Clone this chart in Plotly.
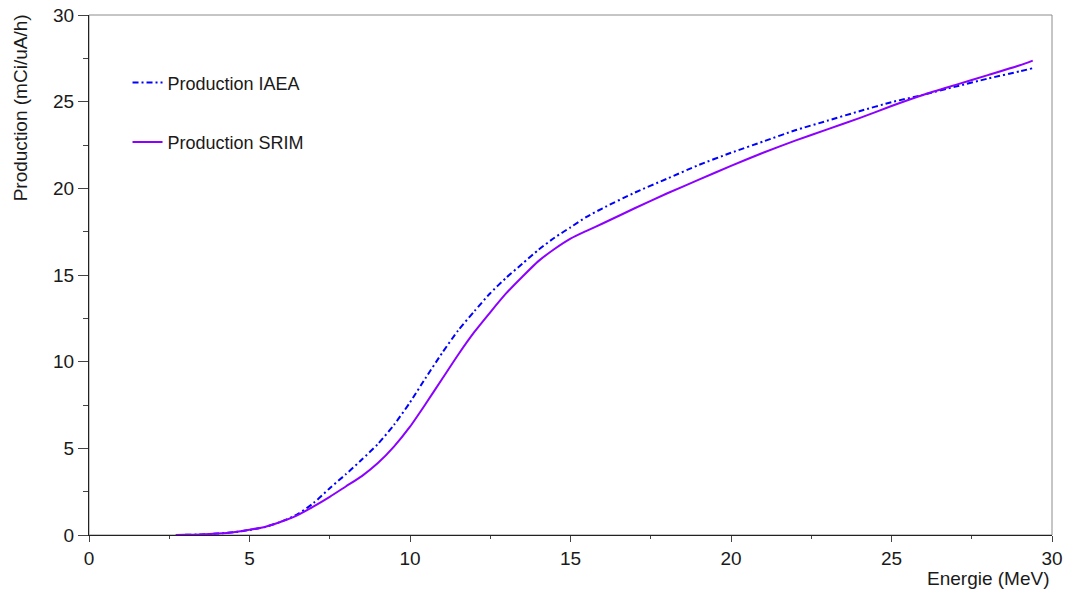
import plotly.graph_objects as go

# Energy (MeV) and production (mCi/uA/h)
iaea_energy = [3.0, 3.5, 4.0, 4.5, 5.0, 5.5, 6.0, 6.5, 7.0, 7.5, 8.0, 8.5, 9.0, 9.5,
               10.0, 10.5, 11.0, 11.5, 12.0, 12.5, 13.0, 13.5, 14.0, 14.5, 15.0, 15.5,
               16, 17, 18, 19, 20, 21, 22, 23, 24, 25, 26, 27, 28, 29, 29.4]
iaea_prod = [0.01, 0.03, 0.08, 0.16, 0.29, 0.47, 0.78, 1.2, 1.85, 2.7, 3.5, 4.35, 5.25, 6.35,
             7.65, 9.1, 10.5, 11.8, 12.9, 13.95, 14.85, 15.65, 16.45, 17.15, 17.75, 18.35,
             18.85, 19.75, 20.55, 21.35, 22.05, 22.7, 23.35, 23.9, 24.45, 24.97, 25.4, 25.87,
             26.33, 26.75, 26.93]

srim_energy = [2.7, 3.0, 3.5, 4.0, 4.5, 5.0, 5.5, 6.0, 6.5, 7.0, 7.5, 8.0, 8.5, 9.0, 9.5,
               10.0, 10.5, 11.0, 11.5, 12.0, 12.5, 13.0, 13.5, 14.0, 14.5, 15.0, 15.5,
               16, 17, 18, 19, 20, 21, 22, 23, 24, 25, 26, 27, 28, 29, 29.4]
srim_prod = [0.0, 0.01, 0.03, 0.08, 0.16, 0.3, 0.48, 0.78, 1.15, 1.65, 2.2, 2.8, 3.4, 4.15, 5.1,
             6.25, 7.6, 9.0, 10.4, 11.7, 12.85, 13.95, 14.9, 15.8, 16.5, 17.1, 17.55,
             17.97, 18.85, 19.7, 20.5, 21.3, 22.05, 22.75, 23.4, 24.05, 24.75, 25.4, 25.97,
             26.53, 27.1, 27.37]

x_ticks = [0, 5, 10, 15, 20, 25, 30]
y_ticks = [0, 5, 10, 15, 20, 25, 30]

FONT = "Liberation Sans, Arial, sans-serif"
TXT = "#1a1a1a"

fig = go.Figure()
fig.add_trace(go.Scatter(
    x=iaea_energy, y=iaea_prod, mode="lines", name="Production IAEA",
    legendgroup="a",
    line=dict(color="#0000FF", width=2, dash="6px,3px,2px,3px", shape="spline", smoothing=0.6),
))
fig.add_trace(go.Scatter(
    x=srim_energy, y=srim_prod, mode="lines", name="Production SRIM",
    legendgroup="b",
    line=dict(color="#8B00FF", width=2, shape="spline", smoothing=0.6),
))

axis_common = dict(
    showgrid=False, zeroline=False, showline=True, linecolor="#222222", linewidth=1,
    ticks="outside", tickcolor="#444444", tickwidth=1, automargin=False,
    tickfont=dict(family=FONT, size=19, color=TXT),
)

fig.update_xaxes(
    range=[0, 30], tickvals=x_ticks, ticktext=[str(v) for v in x_ticks], ticklen=6,
    minor=dict(ticks="outside", dtick=2.5, ticklen=3, tickcolor="#444444"),
    **axis_common,
)
fig.update_yaxes(
    range=[0, 30], tickvals=y_ticks, ticktext=[str(v) for v in y_ticks], ticklen=10,
    minor=dict(ticks="outside", dtick=2.5, ticklen=5, tickcolor="#444444"),
    **axis_common,
)

# gray top/right frame
fig.add_shape(type="rect", xref="paper", yref="paper", x0=0, y0=0, x1=1, y1=1,
              line=dict(color="#8c8c8c", width=1), layer="below")

fig.add_annotation(text="Energie (MeV)", xref="paper", yref="paper", x=1.0, y=-0.0827,
                   xanchor="right", yanchor="middle", showarrow=False,
                   font=dict(family=FONT, size=19, color=TXT))
fig.add_annotation(text="Production (mCi/uA/h)", xref="paper", yref="paper", x=-0.0717, y=1.006,
                   xanchor="center", yanchor="top", textangle=-90, showarrow=False,
                   font=dict(family=FONT, size=19, color=TXT))

fig.update_layout(
    width=1065, height=589,
    margin=dict(l=89, r=13, t=15, b=54, autoexpand=False),
    paper_bgcolor="white", plot_bgcolor="white",
    showlegend=True,
    legend=dict(x=0.040, y=0.905, xanchor="left", yanchor="top",
                bgcolor="rgba(0,0,0,0)", borderwidth=0,
                traceorder="grouped", tracegroupgap=33,
                font=dict(family=FONT, size=18, color=TXT)),
)

# remove the default page margin so the figure fills the window exactly
fig.write_html("out.html", config={"displayModeBar": False},
               post_script="document.body.style.margin='0px';")
